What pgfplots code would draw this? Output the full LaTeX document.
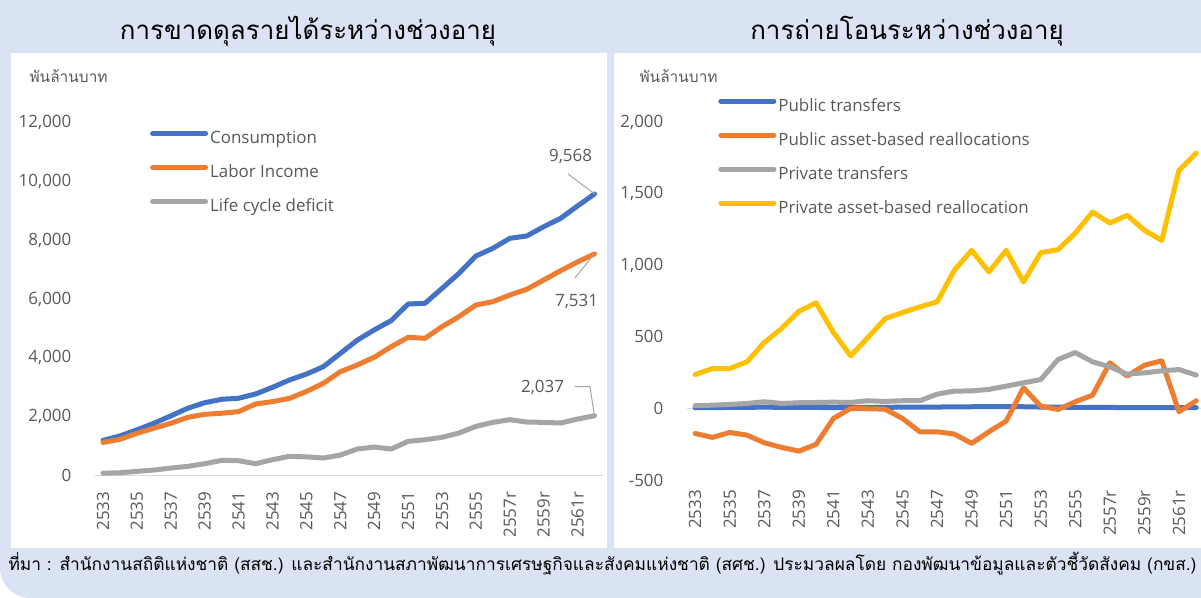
\documentclass[border=0pt]{standalone}
\usepackage{fontspec}
\usepackage{pgfplots}
\pgfplotsset{compat=1.18}
\setmainfont{Open Sans}
\newfontfamily\thai[Script=Thai]{Loma}
\definecolor{bgc}{HTML}{DAE3F3}
\definecolor{cblue}{HTML}{4472C4}
\definecolor{corange}{HTML}{ED7D31}
\definecolor{cgrey}{HTML}{A5A5A5}
\definecolor{cgold}{HTML}{FFC000}
\definecolor{txt}{HTML}{595959}
\definecolor{gridc}{HTML}{D9D9D9}
\definecolor{leader}{HTML}{A6A6A6}

\pgfplotstableread{
i C L D
0 1200 1130 85
1 1350 1235 100
2 1555 1440 147
3 1780 1610 192
4 2030 1780 260
5 2290 1980 317
6 2480 2085 407
7 2595 2120 520
8 2630 2175 509
9 2775 2435 407
10 3000 2515 543
11 3250 2625 657
12 3450 2860 640
13 3700 3135 600
14 4150 3530 700
15 4600 3760 906
16 4950 4020 973
17 5265 4380 906
18 5830 4700 1166
19 5855 4665 1222
20 6360 5060 1302
21 6870 5400 1449
22 7460 5795 1675
23 7720 5910 1811
24 8060 6135 1902
25 8140 6330 1823
26 8455 6645 1811
27 8740 6960 1789
28 9160 7260 1924
29 9568 7531 2037
}\lefttable

\pgfplotstableread{
i PT PA PR PP
0 5 -175 19 237
1 6 -202 23 279
2 7 -168 28 279
3 8 -186 35 326
4 9 -240 47 461
5 8 -272 35 558
6 7 -298 40 679
7 7 -251 42 738
8 6 -70 44 531
9 6 0 42 368
10 7 -2 54 496
11 8 -5 49 628
12 9 -70 54 670
13 10 -163 54 710
14 10 -163 100 745
15 11 -179 121 966
16 12 -244 123 1105
17 12 -163 133 954
18 13 -88 156 1105
19 12 144 179 884
20 10 16 202 1089
21 9 -7 342 1110
22 8 47 391 1226
23 8 93 326 1373
24 7 319 291 1296
25 6 226 240 1350
26 6 302 249 1245
27 6 333 263 1175
28 6 -23 272 1664
29 6 54 233 1785
}\righttable

\pgfplotsset{
  myax/.style={
    scale only axis,
    xmin=-0.5, xmax=29.5,
    xtick={0,2,...,28},
    xticklabels={2533,2535,2537,2539,2541,2543,2545,2547,2549,2551,2553,2555,2557r,2559r,2561r},
    major tick length=0pt,
    tick style={draw=none},
    ticklabel style={font=\fontsize{17}{20}\selectfont, text=txt},
    xticklabel style={rotate=90, anchor=east, inner sep=0pt},
    yticklabel style={anchor=east, inner sep=0pt},
    yticklabel shift=23bp,
    /pgf/number format/assume math mode=true,
    /pgf/number format/1000 sep={,},
    scaled y ticks=false,
    clip=false,
    every axis plot/.append style={line width=5bp, line join=round, line cap=round, mark=none},
    legend cell align=left,
    legend image code/.code={\draw[##1, line width=5bp, line cap=round] (0bp,5.5bp) -- (53bp,5.5bp);},
    legend style={draw=none, fill=none, font=\fontsize{17}{20}\selectfont, text=txt,
      inner sep=0pt, row sep=17bp,
      nodes={inner sep=0pt, text height=13bp, text depth=4bp},
      /tikz/every odd column/.append style={column sep=2bp}},
  }
}

\begin{document}
\begin{tikzpicture}
\useasboundingbox (0,0) rectangle (1201bp,-598bp);
\fill[white] (0,0) rectangle (1201bp,-598bp);
\fill[bgc] (0,0) -- (0,-568bp) arc[start angle=180, end angle=270, radius=30bp] -- (1201bp,-598bp) -- (1201bp,0) -- cycle;
\fill[white] (11bp,-53bp) rectangle (607bp,-548bp);
\fill[white] (614bp,-53bp) rectangle (1201bp,-548bp);

\node[font=\thai\fontsize{26}{30}\selectfont, text=black] at (308bp,-31bp) {การขาดดุลรายได้ระหว่างช่วงอายุ};
\node[font=\thai\fontsize{26}{30}\selectfont, text=black] at (907bp,-31bp) {การถ่ายโอนระหว่างช่วงอายุ};
\node[anchor=west, font=\thai\fontsize{15.5}{18}\selectfont, text=txt] at (26bp,-76bp) {พันล้านบาท};
\node[anchor=west, font=\thai\fontsize{15.5}{18}\selectfont, text=txt] at (636bp,-76bp) {พันล้านบาท};

\begin{axis}[myax,
  at={(94.5bp,-475.7bp)}, anchor=south west,
  width=508.5bp, height=353.4bp,
  ymin=0, ymax=12000, ytick={0,2000,...,12000},
  xticklabel shift=16bp,
  axis x line*=bottom, axis y line*=left,
  x axis line style={draw=gridc, line width=1.3bp, -},
  y axis line style={draw=none},
  legend style={at={(0.109,0.977)}, anchor=north west},
]
\addplot[cblue] table[x=i, y=C] {\lefttable};
\addlegendentry{Consumption}
\addplot[corange] table[x=i, y=L] {\lefttable};
\addlegendentry{Labor Income}
\addplot[cgrey] table[x=i, y=D] {\lefttable};
\addlegendentry{Life cycle deficit}
\node[font=\fontsize{17}{20}\selectfont, text=txt] at ([xshift=-24bp, yshift=37bp]axis cs:29,9568) {9,568};
\draw[leader, line width=1bp] ([xshift=-26.6bp, yshift=20bp]axis cs:29,9568) -- (axis cs:29,9568);
\node[font=\fontsize{17}{20}\selectfont, text=txt] at ([xshift=-18bp, yshift=-48bp]axis cs:29,7531) {7,531};
\draw[leader, line width=1bp] ([xshift=-19.6bp, yshift=-24bp]axis cs:29,7531) -- (axis cs:29,7531);
\node[font=\fontsize{17}{20}\selectfont, text=txt] at ([xshift=-52bp, yshift=28bp]axis cs:29,2037) {2,037};
\draw[leader, line width=1bp] ([xshift=-19.6bp, yshift=29bp]axis cs:29,2037) -- ([xshift=-4.6bp, yshift=29bp]axis cs:29,2037) -- (axis cs:29,2037);
\end{axis}

\begin{axis}[myax,
  at={(686.5bp,-480bp)}, anchor=south west,
  width=518.4bp, height=357.7bp,
  ymin=-500, ymax=2000, ytick={-500,0,500,...,2000},
  xticklabel shift=10bp,
  axis lines=left,
  x axis line style={draw=none}, y axis line style={draw=none},
  extra y ticks={0}, extra y tick labels={},
  extra y tick style={grid=major, major grid style={draw=gridc, line width=1.3bp}},
  legend style={at={(0.061,1.068)}, anchor=north west},
]
\addplot[cblue] table[x=i, y=PT] {\righttable};
\addlegendentry{Public transfers}
\addplot[corange] table[x=i, y=PA] {\righttable};
\addlegendentry{Public asset-based reallocations}
\addplot[cgrey] table[x=i, y=PR] {\righttable};
\addlegendentry{Private transfers}
\addplot[cgold] table[x=i, y=PP] {\righttable};
\addlegendentry{Private asset-based reallocation}
\end{axis}

\node[anchor=base west, font=\thai\fontsize{17.4}{20}\selectfont, text=black] at (5bp,-570bp) {ที่มา : สำนักงานสถิติแห่งชาติ (สสช.) และสำนักงานสภาพัฒนาการเศรษฐกิจและสังคมแห่งชาติ (สศช.) ประมวลผลโดย กองพัฒนาข้อมูลและตัวชี้วัดสังคม (กขส.)};
\end{tikzpicture}
\end{document}
